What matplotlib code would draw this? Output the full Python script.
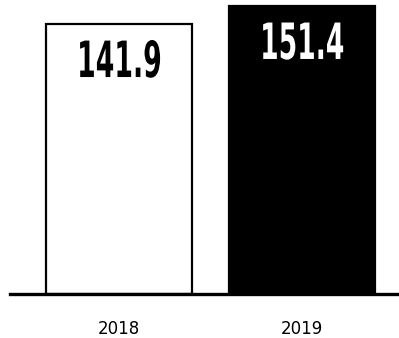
import matplotlib
matplotlib.use("Agg")
import matplotlib.pyplot as plt
from matplotlib.patheffects import AbstractPathEffect
from matplotlib.transforms import Affine2D

years = ["2018", "2019"]
values = [141.9, 151.4]
face_colors = ["white", "black"]
label_colors = ["black", "white"]


class SqueezeToWidth(AbstractPathEffect):
    """Compress glyph outlines horizontally to a target pixel width (condensed look)."""

    def __init__(self, width_px):
        super().__init__()
        self.width_px = width_px

    def draw_path(self, renderer, gc, tpath, affine, rgbFace=None):
        ext = tpath.get_extents(affine)
        cx = (ext.x0 + ext.x1) / 2
        sx = self.width_px / max(ext.width, 1e-6)
        squeeze = Affine2D().translate(-cx, 0).scale(sx, 1).translate(cx, 0)
        renderer.draw_path(gc, tpath, affine + squeeze, rgbFace)


W, H = 399, 338
fig = plt.figure(figsize=(W / 100, H / 100), dpi=100)
ax = fig.add_axes([10 / W, 44 / H, 1 - 10 / W, 1 - 44 / H])

x = [0, 1]
ax.bar(x, values, width=0.80, color=face_colors, edgecolor="black", linewidth=1.6, zorder=2)
ax.set_xlim(-0.597, 1.534)
ax.set_ylim(0, 154.6)
ax.axhline(0, color="black", linewidth=2.4, zorder=3, clip_on=False)

for xi, v, c in zip(x, values, label_colors):
    ax.annotate(f"{v:.1f}", (xi, v), xytext=(0, -28), textcoords="offset points",
                ha="center", va="center", fontsize=36, fontweight="bold",
                family=["Liberation Sans Narrow", "DejaVu Sans"], color=c, zorder=4,
                path_effects=[SqueezeToWidth(80)])

ax.set_xticks(x)
ax.set_xticklabels(years, fontsize=12, family="DejaVu Sans")
ax.tick_params(axis="x", length=0, pad=19)
ax.set_yticks([])
for s in ax.spines.values():
    s.set_visible(False)

fig.savefig("out.png", dpi=100)
